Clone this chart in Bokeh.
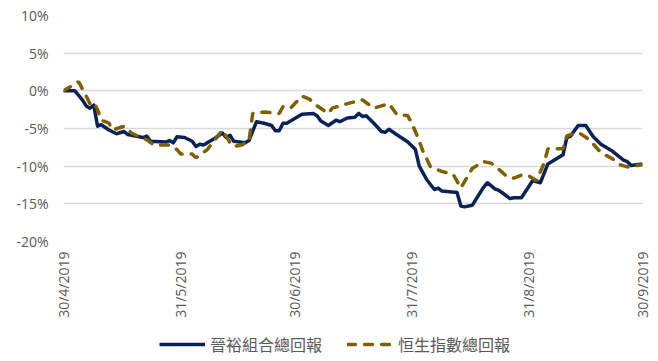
import pandas as pd
from bokeh.plotting import figure
from bokeh.layouts import column
from bokeh.models import (Range1d, FixedTicker, PrintfTickFormatter,
                          CustomJSTickFormatter, Legend, LegendItem)
from bokeh.embed import file_html
from bokeh.resources import INLINE

# ---- data ----
series_names = ["晉裕組合總回報", "恒生指數總回報"]

port_dates = ["2019-04-30", "2019-05-02", "2019-05-03", "2019-05-05", "2019-05-06", "2019-05-07",
              "2019-05-08", "2019-05-09", "2019-05-10", "2019-05-12", "2019-05-14", "2019-05-16",
              "2019-05-17", "2019-05-21", "2019-05-22", "2019-05-23", "2019-05-27", "2019-05-28",
              "2019-05-29", "2019-05-30", "2019-06-01", "2019-06-03", "2019-06-04", "2019-06-05",
              "2019-06-06", "2019-06-09", "2019-06-11", "2019-06-12", "2019-06-13", "2019-06-14",
              "2019-06-17", "2019-06-18", "2019-06-20", "2019-06-22", "2019-06-24", "2019-06-25",
              "2019-06-26", "2019-06-27", "2019-06-28", "2019-06-30", "2019-07-02", "2019-07-05",
              "2019-07-06", "2019-07-07", "2019-07-09", "2019-07-11", "2019-07-12", "2019-07-14",
              "2019-07-16", "2019-07-17", "2019-07-18", "2019-07-19", "2019-07-21", "2019-07-23",
              "2019-07-24", "2019-07-25", "2019-07-27", "2019-07-30", "2019-08-01", "2019-08-02",
              "2019-08-04", "2019-08-06", "2019-08-07", "2019-08-08", "2019-08-12", "2019-08-13",
              "2019-08-14", "2019-08-16", "2019-08-19", "2019-08-20", "2019-08-22", "2019-08-23",
              "2019-08-26", "2019-08-27", "2019-08-29", "2019-09-01", "2019-09-03", "2019-09-05",
              "2019-09-09", "2019-09-10", "2019-09-11", "2019-09-13", "2019-09-15", "2019-09-17",
              "2019-09-19", "2019-09-22", "2019-09-25", "2019-09-26", "2019-09-27", "2019-09-30"]
port_ret = [0.0, 0.0, 0.0, -1.2, -2.0, -2.3,
            -1.9, -4.7, -4.5, -5.2, -5.7, -5.4,
            -5.8, -6.2, -6.0, -6.7, -6.8, -6.6,
            -6.9, -6.1, -6.2, -6.7, -7.4, -7.1,
            -7.2, -6.3, -5.6, -6.2, -5.9, -6.7,
            -6.9, -6.6, -4.1, -4.3, -4.6, -5.3,
            -5.3, -4.3, -4.3, -3.7, -3.1, -3.0,
            -3.3, -4.0, -4.6, -3.9, -4.1, -3.6,
            -3.5, -3.0, -3.4, -3.3, -4.3, -5.4,
            -5.5, -5.1, -5.8, -6.8, -7.8, -10.0,
            -11.8, -13.1, -12.9, -13.3, -13.5, -15.3,
            -15.4, -15.2, -12.8, -12.2, -13.0, -13.2,
            -14.3, -14.2, -14.2, -11.9, -12.2, -9.7,
            -8.5, -6.2, -6.0, -4.6, -4.6, -6.1,
            -7.1, -8.0, -9.2, -9.4, -9.9, -9.7]

hsi_dates = ["2019-04-30", "2019-05-04", "2019-05-06", "2019-05-07", "2019-05-08", "2019-05-09",
             "2019-05-10", "2019-05-12", "2019-05-13", "2019-05-16", "2019-05-18", "2019-05-20",
             "2019-05-22", "2019-05-24", "2019-05-28", "2019-05-30", "2019-05-31", "2019-06-03",
             "2019-06-04", "2019-06-07", "2019-06-09", "2019-06-11", "2019-06-13", "2019-06-14",
             "2019-06-16", "2019-06-18", "2019-06-19", "2019-06-22", "2019-06-26", "2019-06-27",
             "2019-06-29", "2019-07-02", "2019-07-04", "2019-07-06", "2019-07-09", "2019-07-10",
             "2019-07-14", "2019-07-18", "2019-07-21", "2019-07-25", "2019-07-27", "2019-07-30",
             "2019-08-01", "2019-08-03", "2019-08-05", "2019-08-08", "2019-08-11", "2019-08-13",
             "2019-08-16", "2019-08-19", "2019-08-21", "2019-08-23", "2019-08-25", "2019-08-27",
             "2019-08-29", "2019-08-31", "2019-09-02", "2019-09-04", "2019-09-05", "2019-09-09",
             "2019-09-10", "2019-09-13", "2019-09-16", "2019-09-19", "2019-09-22", "2019-09-24",
             "2019-09-26", "2019-09-30"]
hsi_ret = [0.0, 1.2, -0.7, -1.7, -1.5, -2.5,
           -3.9, -4.3, -5.2, -4.7, -5.6, -6.1,
           -6.5, -7.2, -7.2, -7.8, -8.4, -8.4,
           -8.9, -7.8, -6.5, -5.2, -6.9, -7.4,
           -7.2, -6.7, -3.0, -2.8, -3.0, -2.1,
           -2.3, -0.7, -1.1, -2.0, -3.0, -2.3,
           -1.7, -1.2, -2.3, -1.7, -3.1, -3.3,
           -5.4, -8.0, -10.1, -10.7, -11.1, -12.9,
           -10.3, -9.4, -9.6, -10.4, -11.3, -11.6,
           -11.2, -11.3, -11.9, -9.6, -7.7, -7.7,
           -6.0, -5.5, -6.5, -8.2, -9.0, -9.8,
           -10.1, -9.8]

x_tick_dates = ["2019-04-30", "2019-05-31", "2019-06-30", "2019-07-31", "2019-08-31", "2019-09-30"]
y_ticks = [-20, -15, -10, -5, 0, 5, 10]

# ---- styles ----
TEXT = "#595959"
GRID = "#d9d9d9"
NAVY = "#0b2259"
GOLD = "#7f6000"
LINE_W = 3.5
DASH = "8 9"

port_x = pd.to_datetime(port_dates)
hsi_x = pd.to_datetime(hsi_dates)

# ---- main chart ----
p = figure(width=658, height=320, x_axis_type="datetime",
           x_range=Range1d(pd.Timestamp(x_tick_dates[0]), pd.Timestamp(x_tick_dates[-1])),
           y_range=Range1d(y_ticks[0], y_ticks[-1]),
           output_backend="svg", toolbar_location=None,
           min_border_left=63, min_border_right=16, min_border_top=15, min_border_bottom=78)
p.outline_line_color = None
p.background_fill_color = "white"
p.border_fill_color = "white"

p.line(port_x, port_ret, line_color=NAVY, line_width=LINE_W, line_join="round")
p.line(hsi_x, hsi_ret, line_color=GOLD, line_width=LINE_W, line_dash=DASH, line_cap="round")

p.xgrid.grid_line_color = None
p.ygrid.grid_line_color = GRID
p.ygrid.grid_line_width = 1.5

p.yaxis.ticker = FixedTicker(ticks=y_ticks)
p.yaxis.formatter = PrintfTickFormatter(format="%d%%")
p.yaxis.axis_line_color = None
p.yaxis.major_tick_line_color = None
p.yaxis.minor_tick_line_color = None
p.yaxis.major_tick_out = 0
p.yaxis.major_label_standoff = 15
p.yaxis.major_label_text_font = "Open Sans"
p.yaxis.major_label_text_font_size = "14px"
p.yaxis.major_label_text_color = TEXT

tick_ms = [int(t) for t in (pd.to_datetime(x_tick_dates).astype("int64") // 10**6)]
p.xaxis.ticker = FixedTicker(ticks=tick_ms)
p.xaxis.formatter = CustomJSTickFormatter(code="""
const d = new Date(tick);
return d.getUTCDate() + '/' + (d.getUTCMonth() + 1) + '/' + d.getUTCFullYear();
""")
p.xaxis.major_label_orientation = 3.14159265 / 2
p.xaxis.axis_line_color = None
p.xaxis.major_tick_line_color = None
p.xaxis.minor_tick_line_color = None
p.xaxis.major_tick_out = 0
p.xaxis.major_label_standoff = 10
p.xaxis.major_label_text_font = "Open Sans"
p.xaxis.major_label_text_font_size = "14px"
p.xaxis.major_label_text_color = TEXT

# ---- legend strip (series keys; the series lie outside this strip's view) ----
lg = figure(width=658, height=41, x_range=Range1d(0, 1), y_range=Range1d(0, 1),
            output_backend="svg", toolbar_location=None,
            x_axis_location=None, y_axis_location=None,
            min_border_left=0, min_border_right=0, min_border_top=0, min_border_bottom=0)
lg.outline_line_color = None
lg.grid.grid_line_color = None
lg.border_fill_color = "white"
lg.background_fill_color = "white"
k1 = lg.line(port_x, port_ret, line_color=NAVY, line_width=LINE_W)
k2 = lg.line(hsi_x, hsi_ret, line_color=GOLD, line_width=LINE_W, line_dash=DASH,
             line_cap="round")

legend = Legend(items=[LegendItem(label=series_names[0], renderers=[k1]),
                       LegendItem(label=series_names[1], renderers=[k2])],
                orientation="horizontal", location=(96, 5),
                glyph_width=46, glyph_height=16, label_standoff=5, spacing=25,
                label_text_font="Noto Sans CJK TC", label_text_font_size="16px",
                label_text_color=TEXT, border_line_color=None,
                background_fill_alpha=0, margin=0, padding=0)
lg.add_layout(legend, "center")

layout = column(p, lg, spacing=0)
open("out.html", "w").write(file_html(layout, INLINE))
